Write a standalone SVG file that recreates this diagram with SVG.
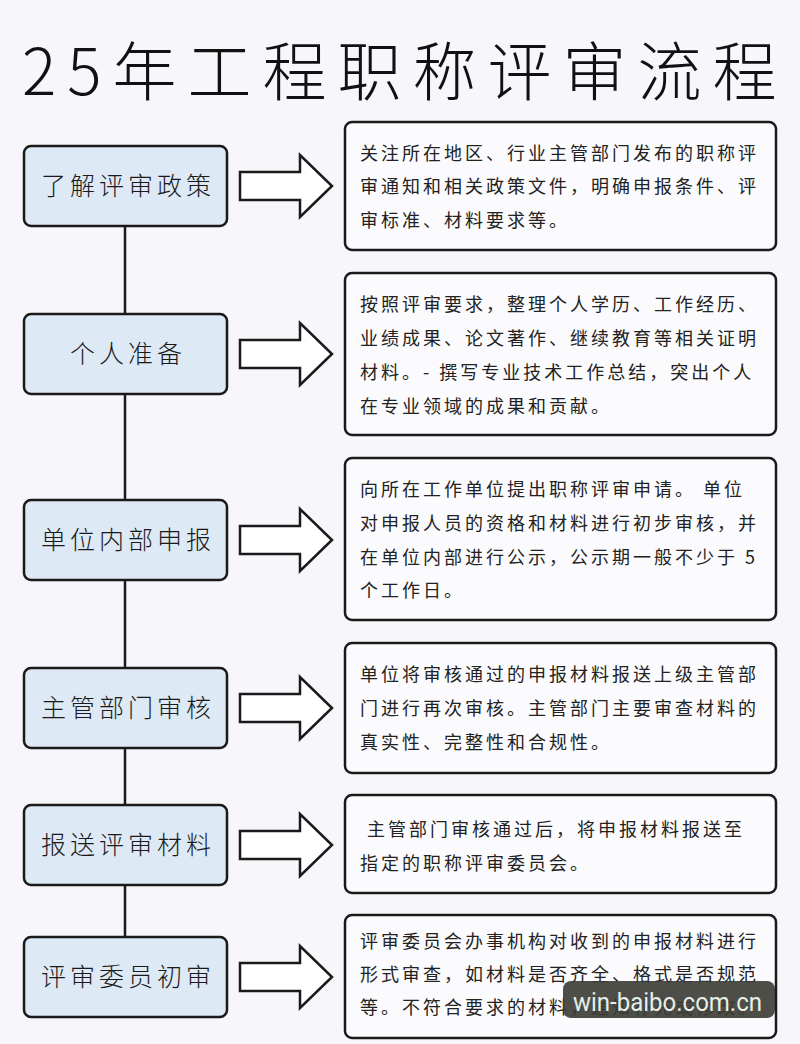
<svg xmlns="http://www.w3.org/2000/svg" width="800" height="1044" viewBox="0 0 800 1044">
<defs>
<style>
.bg{fill:#f7f7fb}
.step rect{fill:#dde9f5;stroke:#1a1a1a;stroke-width:2.5}
.step text{font-family:"Noto Sans CJK SC","Noto Sans",sans-serif;font-size:25px;font-weight:300;letter-spacing:4px;fill:#1a1a1a;text-anchor:middle}
.desc rect{fill:#fbfbfd;stroke:#1a1a1a;stroke-width:2.5}
.desc text{font-family:"Noto Sans CJK SC","Noto Sans",sans-serif;font-size:18px;font-weight:400;letter-spacing:3px;fill:#222}
.arrow{fill:#ffffff;stroke:#1a1a1a;stroke-width:2.5;stroke-linejoin:miter}
.link{stroke:#1a1a1a;stroke-width:2.5;fill:none}
.title{font-family:"Noto Sans CJK SC","Noto Sans",sans-serif;font-size:64px;font-weight:300;letter-spacing:11px;fill:#111}
</style>
</defs>
<rect class="bg" x="0" y="0" width="800" height="1044"/>
<text class="title" x="22" y="95">25年工程职称评审流程</text>

<g id="connectors">
<line class="link" x1="125" y1="226" x2="125" y2="937"/>
<path class="arrow" d="M240,172 H300 V155 L332,186 L300,217 V200 H240 Z"/>
<path class="arrow" d="M240,340 H300 V323 L332,354 L300,385 V368 H240 Z"/>
<path class="arrow" d="M240,526 H300 V509 L332,540 L300,571 V554 H240 Z"/>
<path class="arrow" d="M240,694 H300 V677 L332,708 L300,739 V722 H240 Z"/>
<path class="arrow" d="M240,831 H300 V814 L332,845 L300,876 V859 H240 Z"/>
<path class="arrow" d="M240,963 H300 V946 L332,977 L300,1008 V991 H240 Z"/>
</g>

<g id="step1" class="step"><rect x="24" y="146" width="203" height="80" rx="7"/><text x="128" y="195">了解评审政策</text></g>
<g id="step2" class="step"><rect x="24" y="314" width="203" height="80" rx="7"/><text x="128" y="363">个人准备</text></g>
<g id="step3" class="step"><rect x="24" y="500" width="203" height="80" rx="7"/><text x="128" y="549">单位内部申报</text></g>
<g id="step4" class="step"><rect x="24" y="668" width="203" height="80" rx="7"/><text x="128" y="717">主管部门审核</text></g>
<g id="step5" class="step"><rect x="24" y="805" width="203" height="80" rx="7"/><text x="128" y="854">报送评审材料</text></g>
<g id="step6" class="step"><rect x="24" y="937" width="203" height="80" rx="7"/><text x="128" y="986">评审委员初审</text></g>

<g id="desc1" class="desc"><rect x="345" y="122" width="431" height="128" rx="7"/>
<text x="360" y="159.5">关注所在地区、行业主管部门发布的职称评</text>
<text x="360" y="193">审通知和相关政策文件，明确申报条件、评</text>
<text x="360" y="226.5">审标准、材料要求等。</text></g>

<g id="desc2" class="desc"><rect x="345" y="273" width="431" height="162" rx="7"/>
<text x="360" y="311">按照评审要求，整理个人学历、工作经历、</text>
<text x="360" y="345">业绩成果、论文著作、继续教育等相关证明</text>
<text x="360" y="379">材料。- 撰写专业技术工作总结，突出个人</text>
<text x="360" y="413">在专业领域的成果和贡献。</text></g>

<g id="desc3" class="desc"><rect x="345" y="458" width="431" height="162" rx="7"/>
<text x="360" y="496">向所在工作单位提出职称评审申请。 单位</text>
<text x="360" y="530">对申报人员的资格和材料进行初步审核，并</text>
<text x="360" y="564">在单位内部进行公示，公示期一般不少于 5</text>
<text x="360" y="597">个工作日。</text></g>

<g id="desc4" class="desc"><rect x="345" y="643" width="431" height="130" rx="7"/>
<text x="360" y="681">单位将审核通过的申报材料报送上级主管部</text>
<text x="360" y="715">门进行再次审核。主管部门主要审查材料的</text>
<text x="360" y="749">真实性、完整性和合规性。</text></g>

<g id="desc5" class="desc"><rect x="345" y="795" width="431" height="98" rx="7"/>
<text x="367" y="836">主管部门审核通过后，将申报材料报送至</text>
<text x="360" y="870">指定的职称评审委员会。</text></g>

<g id="desc6" class="desc"><rect x="345" y="915" width="431" height="123" rx="7"/>
<text x="360" y="948">评审委员会办事机构对收到的申报材料进行</text>
<text x="360" y="981">形式审查，如材料是否齐全、格式是否规范</text>
<text x="360" y="1014">等。不符合要求的材料，通知补充或修改。</text></g>

<g id="watermark">
<rect x="563" y="981" width="212" height="37" rx="8" fill="#3b3b35" opacity="0.9"/>
<text x="573" y="1011" font-family="Roboto,'DejaVu Sans',sans-serif" font-size="25" fill="#e6efe8" textLength="189" lengthAdjust="spacingAndGlyphs">win-baibo.com.cn</text>
</g>
</svg>
